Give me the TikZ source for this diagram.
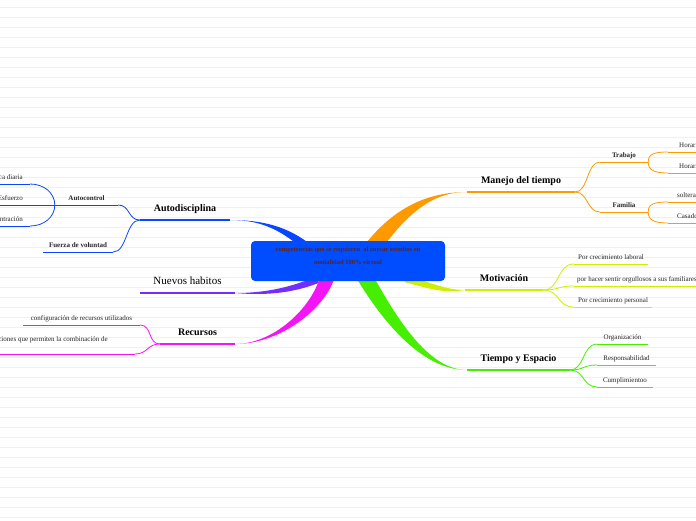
\documentclass[tikz,border=0pt]{standalone}
\usepackage{fontspec}
\setmainfont{Liberation Serif}
\usetikzlibrary{calc}
\definecolor{rootblue}{RGB}{0,76,255}
\definecolor{rootink}{RGB}{90,35,35}
\definecolor{mapblue}{RGB}{10,70,255}
\definecolor{mappurple}{RGB}{115,45,255}
\definecolor{mapmagenta}{RGB}{245,20,245}
\definecolor{maporange}{RGB}{255,153,0}
\definecolor{maplime}{RGB}{206,240,0}
\definecolor{mapgreen}{RGB}{70,238,0}
\definecolor{ruleline}{RGB}{240,240,240}
\pgfdeclarelayer{background}
\pgfsetlayers{background,main}
\newcommand\taperbranch[6]{%
  \fill[#1] (#2) .. controls (#4) and (#5) .. (#6)
    .. controls ($(#5)+0.5*(#3)$) and ($(#4)+(#3)$) .. ($(#2)+(#3)$) -- cycle;}

\begin{document}
\begin{tikzpicture}[
  x=1pt, y=-1pt,
  rootbox/.style={rectangle, rounded corners=4pt, fill=rootblue, minimum width=194, minimum height=40,
    align=center, text=rootink, font=\fontsize{6.5}{13}\selectfont\bfseries, text height=7pt},
  topic/.style={font=\fontsize{10}{12}\selectfont\bfseries, inner xsep=0pt, inner ysep=8pt, text depth=0pt, anchor=south},
  habit/.style={topic, font=\fontsize{11}{13}\selectfont},
  leaf/.style={font=\fontsize{7}{8.5}\selectfont, text=black!85, inner xsep=0pt, inner ysep=4.7pt, text depth=0pt, anchor=south},
  bleaf/.style={leaf, font=\fontsize{7}{8.5}\selectfont\bfseries},
  uline/.style={line width=1.2pt},
  link/.style={line width=0.8pt}
]
\useasboundingbox (0,0) rectangle (696,520);
\clip (0,0) rectangle (696,520);

\node[rootbox] (root) at (348,261) {competencias que se requieren~ al cursar estudios en\\modalidad 100\% virtual};

\node[topic, minimum width=90] (autod) at (185,220) {Autodisciplina};
\node[habit, minimum width=95] (nuevos) at (187.5,293) {Nuevos habitos};
\node[topic, minimum width=75] (recur) at (197.5,344) {Recursos};
\node[topic, minimum width=108] (manejo) at (521,192) {Manejo del tiempo};
\node[topic, minimum width=78] (motiv) at (504,290) {Motivación};
\node[topic, minimum width=103] (tiempo) at (518.5,370) {Tiempo y Espacio};

\node[bleaf, minimum width=63] (autoc) at (86.5,205) {Autocontrol};
\node[bleaf, minimum width=70] (fuerza) at (78,252) {Fuerza de voluntad};
\node[leaf, anchor=south east, inner xsep=7pt] (pract) at (30,184) {Práctica diaria};
\node[leaf, anchor=south east, inner xsep=7pt] (esfu) at (30,205) {Esfuerzo};
\node[leaf, anchor=south east, inner xsep=7pt] (conc) at (30,226) {Concentración};
\node[leaf, minimum width=117] (config) at (81.5,325) {configuración de recursos utilizados};
\node[leaf, anchor=south east, inner xsep=27pt, inner ysep=12pt] (combi) at (135,354) {aplicaciones que permiten la combinación de};

\node[bleaf, minimum width=48] (trab) at (624,162) {Trabajo};
\node[bleaf, minimum width=48] (fami) at (624,212) {Familia};
\node[leaf, anchor=south west, inner xsep=11pt] (hor1) at (668,152) {Horario fijo};
\node[leaf, anchor=south west, inner xsep=11pt] (hor2) at (668,173) {Horario flexible};
\node[leaf, anchor=south west, inner xsep=9pt] (solt) at (668,202) {soltera/o};
\node[leaf, anchor=south west, inner xsep=9pt] (casa) at (668,223) {Casado/a};

\node[leaf, minimum width=74] (lab) at (611,264) {Por crecimiento laboral};
\node[leaf, anchor=south west, inner xsep=3pt] (fam) at (574,286) {por hacer sentir orgullosos a sus familiares};
\node[leaf, minimum width=78] (pers) at (613,307) {Por crecimiento personal};

\node[leaf, minimum width=51] (org) at (622.5,344) {Organización};
\node[leaf, minimum width=59] (resp) at (626.5,365) {Responsabilidad};
\node[leaf, minimum width=56] (cump) at (625,387) {Cumplimientoo};

\begin{pgfonlayer}{background}
\clip (0,0) rectangle (696,520);
\fill[white] (0,0) rectangle (696,520);
\foreach \y in {7,17,...,517}
  \draw[ruleline, line width=0.8pt] (0,\y) -- (696,\y);

\coordinate (s-autod) at ($(root.north)+(-49,5)$);
\coordinate (s-nuevos) at ($(root.south)+(-30,-5)$);
\coordinate (s-recur) at ($(root.south)+(-27,-9)$);
\coordinate (s-manejo) at ($(root.north)+(13,9)$);
\coordinate (s-motiv) at ($(root.south)+(57,-6)$);
\coordinate (s-tiempo) at ($(root.south)+(5,-9)$);

\taperbranch{mapblue}{s-autod}{13,0}{275,226}{255,220}{autod.south east}
\taperbranch{mappurple}{s-nuevos}{0,7}{300,283}{275,293}{nuevos.south east}
\taperbranch{mapmagenta}{s-recur}{15,0}{315,305}{275,344}{recur.south east}
\taperbranch{maporange}{s-manejo}{20,0}{390,210}{425,192}{manejo.south west}
\taperbranch{maplime}{s-motiv}{0,7}{430,282}{445,290}{motiv.south west}
\taperbranch{mapgreen}{s-tiempo}{18,0}{372,305}{415,370}{tiempo.south west}

\foreach \n/\c in {autod/mapblue, nuevos/mappurple, recur/mapmagenta, manejo/maporange, motiv/maplime, tiempo/mapgreen}
  \draw[uline, \c] (\n.south west) -- (\n.south east);
\foreach \n/\c in {autoc/mapblue, fuerza/mapblue, pract/mapblue, esfu/mapblue, conc/mapblue,
    config/mapmagenta, combi/mapmagenta, trab/maporange, fami/maporange, hor1/maporange, hor2/maporange,
    solt/maporange, casa/maporange, lab/maplime, fam/maplime, pers/maplime, org/mapgreen, resp/mapgreen, cump/mapgreen}
  \draw[link, \c] (\n.south west) -- (\n.south east);

\draw[link, mapblue] (autod.south west) .. controls +(-12,0) and +(12,0) .. (autoc.south east);
\draw[link, mapblue] (autod.south west) .. controls +(-14,0) and +(14,0) .. (fuerza.south east);
\draw[link, mapblue] (autoc.south west) .. controls +(0,-12) and +(14,0) .. (pract.south east);
\draw[link, mapblue] (autoc.south west) -- (esfu.south east);
\draw[link, mapblue] (autoc.south west) .. controls +(0,12) and +(14,0) .. (conc.south east);

\draw[link, mapmagenta] (recur.south west) .. controls +(-12,0) and +(12,0) .. (config.south east);
\draw[link, mapmagenta] (recur.south west) .. controls +(-13,0) and +(13,0) .. (combi.south east);

\draw[link, maporange] (manejo.south east) .. controls +(13,0) and +(-13,0) .. (trab.south west);
\draw[link, maporange] (manejo.south east) .. controls +(13,0) and +(-13,0) .. (fami.south west);
\draw[link, maporange] (trab.south east) .. controls +(0,-8) and +(-14,0) .. (hor1.south west);
\draw[link, maporange] (trab.south east) .. controls +(0,8) and +(-14,0) .. (hor2.south west);
\draw[link, maporange] (fami.south east) .. controls +(0,-8) and +(-14,0) .. (solt.south west);
\draw[link, maporange] (fami.south east) .. controls +(0,8) and +(-14,0) .. (casa.south west);

\draw[link, maplime] (motiv.south east) .. controls +(17,0) and +(-17,0) .. (lab.south west);
\draw[link, maplime] (motiv.south east) .. controls +(17,0) and +(-17,0) .. (fam.south west);
\draw[link, maplime] (motiv.south east) .. controls +(17,0) and +(-17,0) .. (pers.south west);

\draw[link, mapgreen] (tiempo.south east) .. controls +(14,0) and +(-14,0) .. (org.south west);
\draw[link, mapgreen] (tiempo.south east) .. controls +(14,0) and +(-14,0) .. (resp.south west);
\draw[link, mapgreen] (tiempo.south east) .. controls +(14,0) and +(-14,0) .. (cump.south west);
\end{pgfonlayer}
\end{tikzpicture}
\end{document}
